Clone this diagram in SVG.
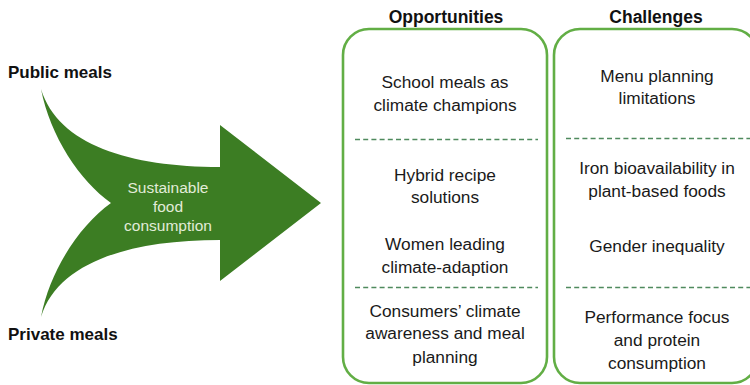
<svg xmlns="http://www.w3.org/2000/svg" width="750" height="385" viewBox="0 0 750 385">
<style>
.lbl{font-family:"Liberation Sans",Arial,sans-serif;font-weight:bold;font-size:17px;fill:#111}
.hdr{font-family:"Liberation Sans",Arial,sans-serif;font-weight:bold;font-size:17.5px;fill:#111;text-anchor:middle}
.txt{font-family:"Liberation Sans",Arial,sans-serif;font-size:17.3px;fill:#1a1a1a;text-anchor:middle}
.atxt{font-family:"Liberation Sans",Arial,sans-serif;font-size:15.5px;fill:#e2ecd9;text-anchor:middle}
.box{fill:#fff;stroke:#62ae45;stroke-width:2.6}
.dash{stroke:#4f8a5e;stroke-width:1.6;stroke-dasharray:5 3.2;fill:none}
</style>
<rect width="750" height="385" fill="#fff"/>
<g id="arrow">
<path d="M41,89 C58,145 130,167 220,167 L220,125 L321,203 L220,281 L220,240 C130,240 58,262 41,317 C50,270 80,225 111,203 C80,181 50,136 41,89 Z" fill="#3c7d23"/>
<text class="atxt" x="168" y="193">Sustainable</text>
<text class="atxt" x="168" y="212">food</text>
<text class="atxt" x="168" y="231">consumption</text>
</g>
<g id="public"><text class="lbl" x="8" y="78">Public meals</text></g>
<g id="private"><text class="lbl" x="8" y="340">Private meals</text></g>
<g id="opportunities">
<text class="hdr" x="446" y="23">Opportunities</text>
<rect class="box" x="343" y="29" width="204" height="354" rx="26"/>
<text class="txt" x="445" y="88">School meals as</text>
<text class="txt" x="445" y="111">climate champions</text>
<line class="dash" x1="355" y1="139.5" x2="538" y2="139.5"/>
<text class="txt" x="445" y="181">Hybrid recipe</text>
<text class="txt" x="445" y="203">solutions</text>
<text class="txt" x="445" y="250">Women leading</text>
<text class="txt" x="445" y="273">climate-adaption</text>
<line class="dash" x1="355" y1="287.5" x2="538" y2="287.5"/>
<text class="txt" x="445" y="317">Consumers’ climate</text>
<text class="txt" x="445" y="339">awareness and meal</text>
<text class="txt" x="445" y="363">planning</text>
</g>
<g id="challenges">
<text class="hdr" x="656" y="23">Challenges</text>
<rect class="box" x="554" y="29" width="204" height="354" rx="26"/>
<text class="txt" x="657" y="82">Menu planning</text>
<text class="txt" x="657" y="104">limitations</text>
<line class="dash" x1="566" y1="138.5" x2="750" y2="138.5"/>
<text class="txt" x="657" y="174">Iron bioavailability in</text>
<text class="txt" x="657" y="197">plant-based foods</text>
<text class="txt" x="657" y="252">Gender inequality</text>
<line class="dash" x1="566" y1="287.5" x2="750" y2="287.5"/>
<text class="txt" x="657" y="323">Performance focus</text>
<text class="txt" x="657" y="346">and protein</text>
<text class="txt" x="657" y="369">consumption</text>
</g>
<g id="connectors"></g>
</svg>
